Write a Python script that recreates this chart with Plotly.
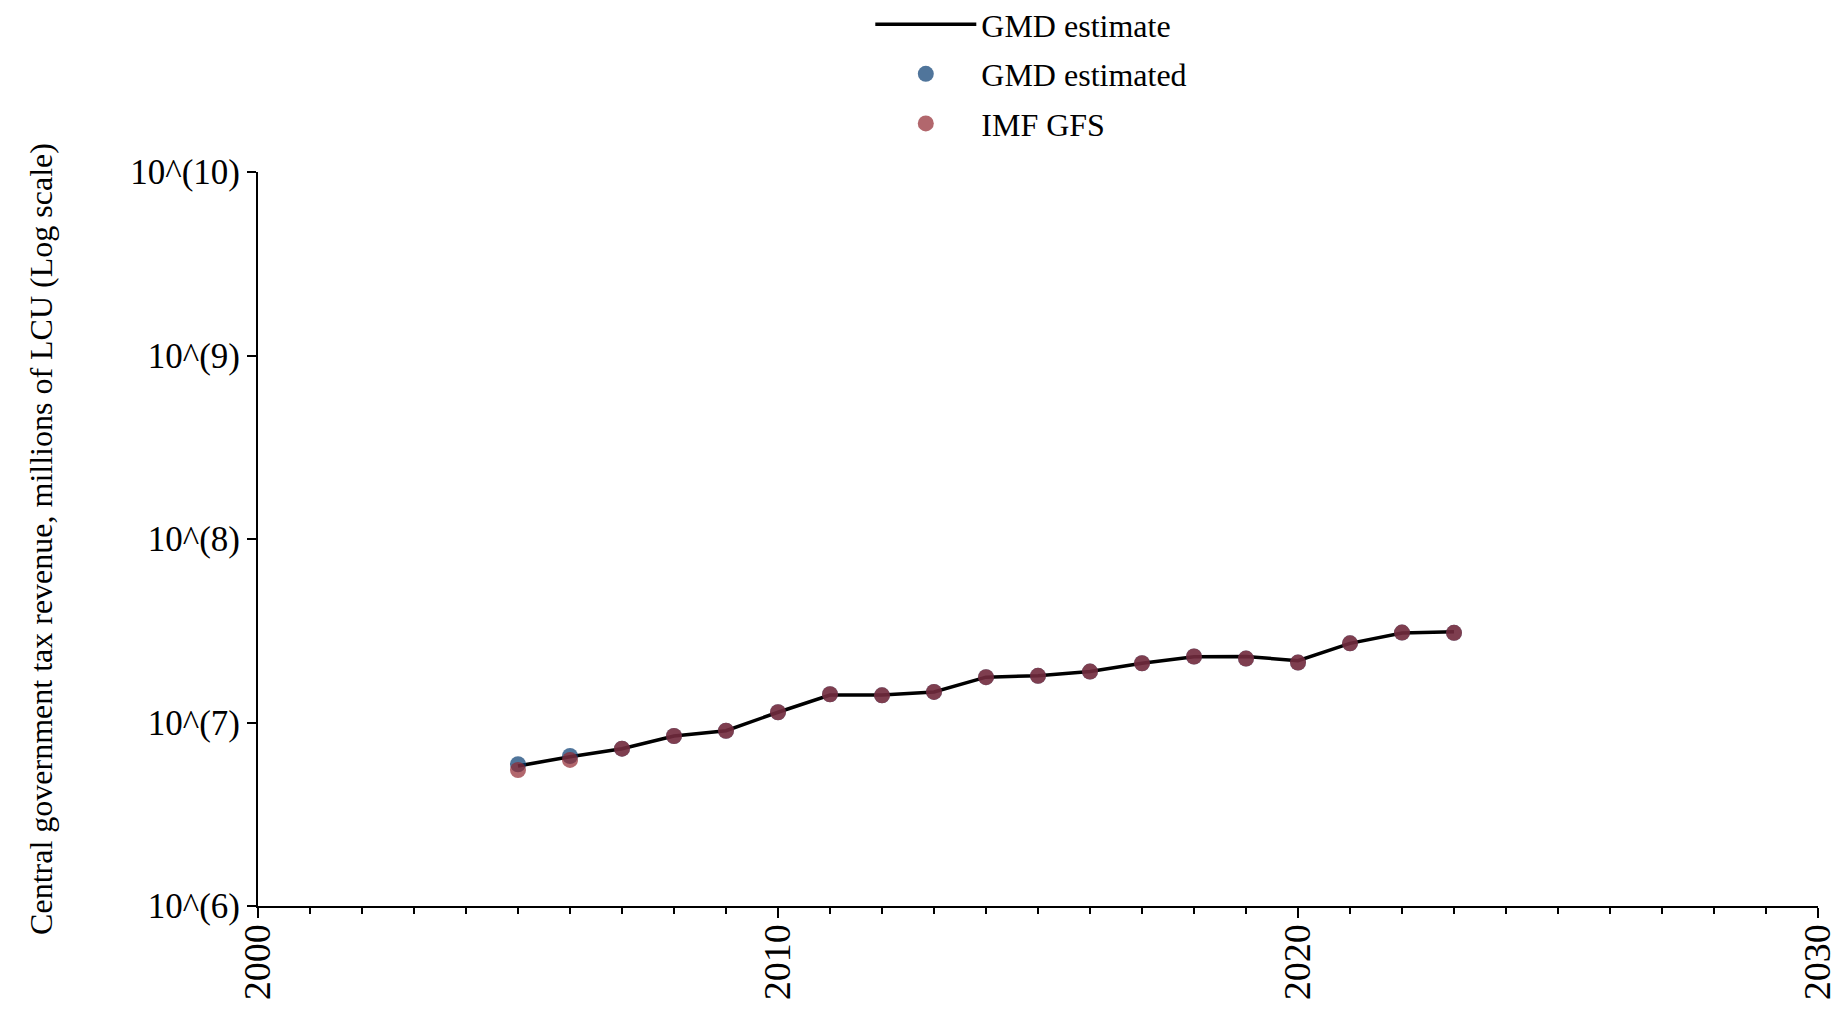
import plotly.graph_objects as go

years = [2005, 2006, 2007, 2008, 2009, 2010, 2011, 2012, 2013, 2014,
         2015, 2016, 2017, 2018, 2019, 2020, 2021, 2022, 2023]
gmd_estimate = [5.8e6, 6.5e6, 7.2e6, 8.44e6, 9.02e6, 1.137e7, 1.41e7, 1.41e7, 1.467e7, 1.766e7,
                1.80e7, 1.894e7, 2.104e7, 2.28e7, 2.29e7, 2.17e7, 2.70e7, 3.07e7, 3.12e7]
gmd_estimated = [5.92e6, 6.57e6, 7.2e6, 8.44e6, 9.02e6, 1.137e7, 1.425e7, 1.407e7, 1.467e7, 1.766e7,
                 1.797e7, 1.894e7, 2.104e7, 2.29e7, 2.23e7, 2.12e7, 2.70e7, 3.09e7, 3.08e7]
imf_gfs = [5.51e6, 6.25e6, 7.2e6, 8.44e6, 9.02e6, 1.137e7, 1.425e7, 1.407e7, 1.467e7, 1.766e7,
           1.797e7, 1.894e7, 2.104e7, 2.29e7, 2.23e7, 2.12e7, 2.70e7, 3.09e7, 3.08e7]

y_tickvals = [1e6, 1e7, 1e8, 1e9, 1e10]
y_ticktext = ["10^(6)", "10^(7)", "10^(8)", "10^(9)", "10^(10)"]
x_tickvals = [2000, 2010, 2020, 2030]

FONT = "Liberation Serif, Times New Roman, serif"

fig = go.Figure()
fig.add_trace(go.Scatter(x=years, y=gmd_estimate, mode="lines", name="GMD estimate",
                         line=dict(color="black", width=3.5), legendgroup="a"))
fig.add_trace(go.Scatter(x=years, y=gmd_estimated, mode="markers", name="GMD estimated",
                         marker=dict(color="#053B70", size=16, opacity=0.7), legendgroup="b"))
fig.add_trace(go.Scatter(x=years, y=imf_gfs, mode="markers", name="IMF GFS",
                         marker=dict(color="#91272F", size=16, opacity=0.7), legendgroup="c"))

fig.update_layout(
    width=1829, height=996,
    margin=dict(l=250, r=19, t=164, b=98, autoexpand=False),
    paper_bgcolor="white", plot_bgcolor="white",
    font=dict(family=FONT, color="black", size=32),
    showlegend=True,
    legend=dict(x=0.3925, y=1.2385, xanchor="left", yanchor="top", xref="paper", yref="paper",
                font=dict(size=32, family=FONT), itemwidth=101, traceorder="grouped",
                tracegroupgap=5, bgcolor="rgba(0,0,0,0)"),
    xaxis=dict(range=[2000, 2030], tickvals=x_tickvals, ticktext=[str(v) for v in x_tickvals],
               tickangle=-90, tickfont=dict(size=38, family=FONT), showgrid=False, zeroline=False,
               showline=True, linecolor="black", linewidth=2, ticks="outside", ticklen=10,
               tickwidth=2, tickcolor="black", automargin=False, ticklabeloverflow="allow",
               ticklabelstandoff=-9,
               minor=dict(dtick=1, ticks="outside", ticklen=6, tickwidth=2, tickcolor="black", showgrid=False)),
    yaxis=dict(type="log", range=[6, 10], tickvals=y_tickvals, ticktext=y_ticktext,
               tickfont=dict(size=35, family=FONT), showgrid=False, zeroline=False,
               showline=True, linecolor="black", linewidth=2, ticks="outside", ticklen=9,
               tickwidth=2, tickcolor="black", automargin=False, ticklabeloverflow="allow",
               title=dict(text="Central government tax revenue, millions of LCU (Log scale)",
                          font=dict(size=32, family=FONT), standoff=68)),
)

fig.write_html("out.html")
